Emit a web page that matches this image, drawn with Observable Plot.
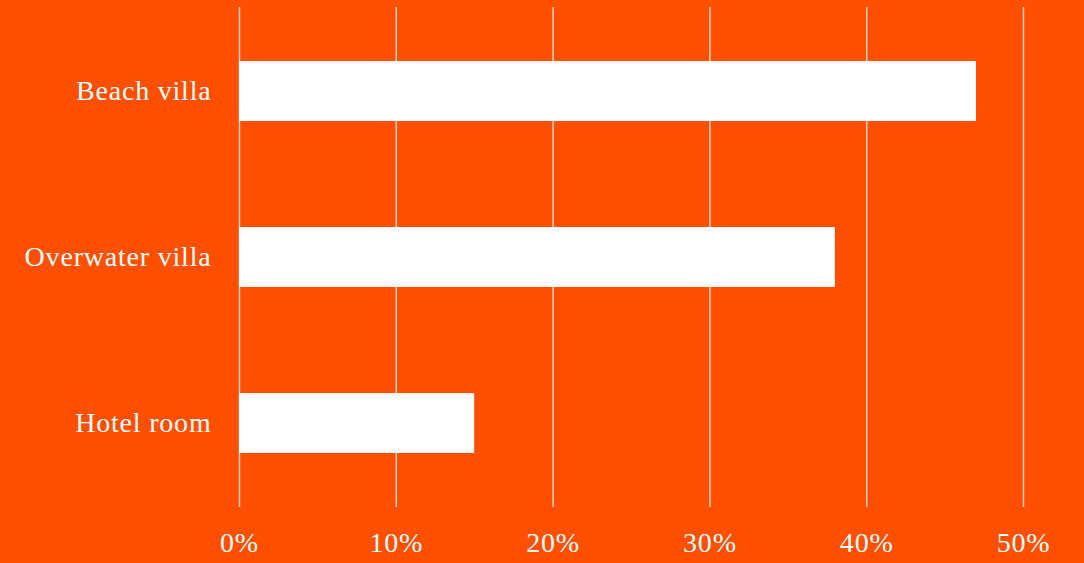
<!DOCTYPE html>
<html>
<head>
<meta charset="utf-8">
<script src="https://cdn.jsdelivr.net/npm/d3@7"></script>
<script src="https://cdn.jsdelivr.net/npm/@observablehq/plot@0.6"></script>
<style>
  html, body { margin: 0; padding: 0; background: #ff4f00; }
  #chart svg { display: block; }
  #chart svg text { letter-spacing: 0.8px; }
</style>
</head>
<body>
<div id="chart"></div>
<script>
const categories = ["Beach villa", "Overwater villa", "Hotel room"];
const shares = [0.47, 0.38, 0.15];
const xTicks = [0, 0.1, 0.2, 0.3, 0.4, 0.5];

const data = categories.map((c, i) => ({category: c, share: shares[i]}));

const chart = Plot.plot({
  width: 1084,
  height: 563,
  marginLeft: 239,
  marginRight: 61,
  marginTop: 7,
  marginBottom: 56,
  style: {
    background: "#ff4f00",
    color: "white",
    fontFamily: "'Liberation Serif', serif",
    fontSize: "28px"
  },
  x: {domain: [0, 0.5], ticks: xTicks, tickFormat: d3.format(".0%"), label: null},
  y: {domain: categories, paddingInner: 0.64, paddingOuter: 0.32, label: null},
  marks: [
    Plot.gridX(xTicks, {stroke: "white", strokeOpacity: 0.75, strokeWidth: 1.5}),
    Plot.barX(data, {y: "category", x: "share", fill: "white"}),
    Plot.axisX({ticks: xTicks, tickSize: 0, tickPadding: 25, tickFormat: d3.format(".0%"), label: null, fontSize: 28}),
    Plot.axisY({tickSize: 0, tickPadding: 28, label: null, fontSize: 28})
  ]
});
document.getElementById("chart").appendChild(chart);
</script>
</body>
</html>
